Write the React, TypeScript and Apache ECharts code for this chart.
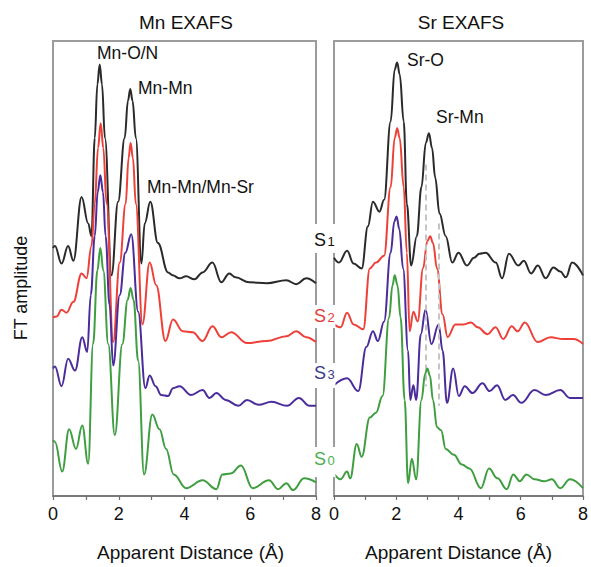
import React, { useEffect, useRef } from "react";
import * as echarts from "echarts";

const FONT = '"Liberation Sans", Arial, Helvetica, sans-serif';

// Mn EXAFS (x: apparent distance in Å, y: FT amplitude with vertical offset, a.u.)
const mnS1: number[][] = [
  [0, 25.3], [0.06, 25.5], [0.26, 23.7], [0.46, 25.5], [0.62, 24.0], [0.87, 30.5],
  [1.07, 27.8], [1.17, 26.5], [1.27, 36.5], [1.35, 42.0], [1.42, 44.0], [1.49, 42.0],
  [1.58, 36.5], [1.78, 22.5], [1.98, 30.0], [2.18, 36.5], [2.28, 40.3], [2.35, 41.5],
  [2.42, 40.3], [2.52, 36.5], [2.69, 23.7], [2.79, 27.8], [2.96, 30.0], [3.19, 25.8],
  [3.5, 22.8], [3.64, 22.5], [3.85, 22.2], [4.05, 22.4], [4.3, 22.1], [4.55, 22.8],
  [4.85, 23.8], [5.12, 21.8], [5.36, 22.7], [5.55, 22.3], [5.97, 21.8], [6.5, 21.7],
  [7.1, 22.0], [7.4, 21.6], [7.7, 22.2], [8, 21.7],
];
const mnS2: number[][] = [
  [0, 18.2], [0.11, 18.3], [0.26, 19.0], [0.41, 18.7], [0.62, 19.8], [0.87, 22.7],
  [1.02, 22.2], [1.17, 25.5], [1.27, 29.8], [1.37, 35.5], [1.45, 38.0], [1.53, 35.5],
  [1.63, 29.8], [1.83, 15.7], [2.03, 23.8], [2.21, 29.8], [2.3, 34.5], [2.36, 36.0],
  [2.43, 34.5], [2.52, 29.8], [2.72, 17.5], [2.94, 23.8], [3.14, 21.5], [3.42, 15.8],
  [3.65, 18.0], [3.95, 16.8], [4.25, 16.7], [4.55, 15.8], [4.85, 17.3], [5.12, 16.2],
  [5.42, 16.7], [5.9, 15.6], [6.5, 15.8], [7.1, 16.3], [7.4, 16.8], [7.7, 16.2], [8, 15.7],
];
const mnS3: number[][] = [
  [0, 13.0], [0.06, 13.2], [0.26, 11.2], [0.46, 14.0], [0.67, 12.8], [0.89, 16.2],
  [1.04, 14.7], [1.15, 20.5], [1.27, 26.5], [1.36, 31.0], [1.44, 32.7], [1.52, 31.0],
  [1.6, 26.5], [1.72, 19.5], [1.83, 13.3], [2.03, 20.5], [2.2, 24.8], [2.38, 26.7],
  [2.59, 18.8], [2.81, 11.0], [2.94, 12.3], [3.12, 11.2], [3.29, 10.3], [3.5, 10.2],
  [3.65, 11.0], [3.85, 11.2], [4.2, 10.3], [4.55, 10.8], [4.76, 10.0], [4.97, 10.5],
  [5.25, 9.8], [5.64, 9.2], [5.9, 9.8], [6.25, 9.3], [6.65, 9.6], [7.12, 9.2],
  [7.48, 10.0], [7.8, 9.2], [8, 9.2],
];
const mnS0: number[][] = [
  [0, 5.7], [0.06, 5.5], [0.28, 2.5], [0.49, 6.8], [0.7, 4.8], [0.89, 7.2],
  [1.07, 3.3], [1.22, 15.5], [1.35, 23.0], [1.44, 25.3], [1.53, 23.0], [1.68, 15.5],
  [1.88, 6.2], [2.11, 15.5], [2.27, 20.0], [2.36, 21.2], [2.45, 20.0], [2.59, 13.8],
  [2.77, 2.2], [3.02, 8.3], [3.24, 6.8], [3.44, 4.8], [3.67, 2.2], [4.05, 0.8],
  [4.55, 1.6], [4.97, 0.7], [5.15, 2.2], [5.4, 2.3], [5.72, 3.1], [6.07, 0.8],
  [6.57, 1.6], [6.85, 0.7], [7.1, 1.3], [7.3, 0.6], [7.64, 1.8], [8, 1.4],
];

// Sr EXAFS
const srS1: number[][] = [
  [0, 24.3], [0.16, 23.8], [0.42, 25.0], [0.63, 23.7], [0.89, 23.2], [1.09, 27.5],
  [1.25, 30.0], [1.46, 29.0], [1.61, 30.2], [1.82, 38.2], [1.95, 43.5], [2.03, 44.2],
  [2.11, 43.0], [2.24, 38.2], [2.34, 29.8], [2.48, 23.5], [2.66, 26.5], [2.81, 31.5],
  [2.95, 36.0], [3.05, 37.0], [3.15, 35.5], [3.25, 32.5], [3.39, 28.8], [3.59, 26.5],
  [3.8, 23.8], [4.0, 24.8], [4.27, 23.5], [4.5, 24.3], [4.67, 24.7], [4.87, 24.8],
  [5.2, 23.8], [5.4, 22.2], [5.62, 24.7], [5.92, 23.5], [6.1, 24.0], [6.33, 22.7],
  [6.55, 23.5], [6.8, 22.2], [7.05, 23.3], [7.27, 22.9], [7.45, 22.3], [7.65, 23.8],
  [8, 22.5],
];
const srS2: number[][] = [
  [0, 17.5], [0.21, 17.2], [0.42, 18.7], [0.63, 17.5], [0.94, 17.0], [1.15, 23.2],
  [1.35, 23.8], [1.61, 24.5], [1.82, 31.5], [1.95, 36.5], [2.03, 37.5], [2.11, 36.5],
  [2.24, 31.5], [2.34, 24.8], [2.43, 16.8], [2.55, 18.8], [2.69, 17.8], [2.86, 23.2],
  [3.0, 26.0], [3.09, 26.5], [3.18, 25.8], [3.31, 23.2], [3.49, 18.5], [3.65, 16.2],
  [3.9, 17.5], [4.17, 17.5], [4.4, 17.7], [4.62, 17.2], [4.93, 16.5], [5.19, 17.2],
  [5.44, 16.0], [5.71, 17.3], [5.9, 16.8], [6.13, 17.7], [6.54, 15.7], [6.96, 16.2],
  [7.35, 16.0], [7.7, 16.0], [8, 15.5],
];
const srS3: number[][] = [
  [0, 11.3], [0.42, 12.0], [0.78, 10.7], [1.04, 15.2], [1.25, 16.8], [1.41, 15.8],
  [1.61, 17.8], [1.82, 24.8], [1.94, 28.0], [2.01, 28.5], [2.1, 27.2], [2.22, 23.2],
  [2.38, 14.8], [2.45, 9.8], [2.55, 11.3], [2.64, 9.8], [2.79, 16.5], [2.94, 19.0],
  [3.13, 15.5], [3.36, 17.5], [3.49, 14.8], [3.63, 9.5], [3.83, 13.0], [4.01, 10.2],
  [4.2, 11.2], [4.45, 10.5], [4.77, 11.5], [5.0, 10.7], [5.24, 11.3], [5.5, 9.8],
  [5.75, 10.3], [6.02, 9.5], [6.44, 10.8], [6.8, 10.3], [7.27, 10.8], [7.58, 10.0],
  [8, 10.0],
];
const srS0: number[][] = [
  [0, 2.3], [0.21, 1.7], [0.42, 2.5], [0.52, 1.8], [0.73, 5.3], [0.89, 4.0],
  [1.15, 8.0], [1.35, 8.5], [1.56, 10.2], [1.77, 18.2], [1.88, 21.5], [1.95, 22.5],
  [2.04, 21.5], [2.14, 18.2], [2.27, 9.8], [2.38, 1.3], [2.5, 3.8], [2.64, 1.7],
  [2.81, 9.8], [2.93, 12.5], [3.0, 13.0], [3.08, 12.3], [3.18, 9.8], [3.31, 7.0],
  [3.44, 6.7], [3.59, 4.8], [3.85, 4.2], [4.11, 3.2], [4.35, 2.8], [4.72, 0.8],
  [4.98, 2.8], [5.25, 1.8], [5.55, 0.7], [5.76, 2.2], [5.97, 1.5], [6.18, 2.2],
  [6.45, 1.7], [6.75, 1.5], [7.0, 1.7], [7.27, 0.8], [7.58, 1.7], [8, 0.8],
];

// Dashed guide lines in the Sr panel: [x, yTop, yBottom]
const srGuides: number[][] = [
  [2.95, 33.8, 11.2],
  [3.36, 27.8, 9.2],
];

const xTicks = [0, 1, 2, 3, 4, 5, 6, 7, 8];
const Y_MAX = 46.4;

const seriesNames = ["S1", "S2", "S3", "S0"];
const colors = ["#2a2a2a", "#ee4038", "#4a2c9c", "#3f9e40"];
const labelColors = ["#111111", "#e23c3c", "#3a3a8c", "#4caf50"];

export default function App() {
  const ref = useRef<HTMLDivElement>(null);

  useEffect(() => {
    if (!ref.current) return;
    const chart = echarts.init(ref.current, undefined, { renderer: "svg" });

    const mk = (data: number[][], i: number, axis: number, extra: any = {}) => ({
      type: "line",
      name: seriesNames[i],
      xAxisIndex: axis,
      yAxisIndex: axis,
      data,
      showSymbol: false,
      smooth: 0.4,
      smoothMonotone: "x",
      lineStyle: { color: colors[i], width: 2 },
      itemStyle: { color: colors[i] },
      z: 2 + i,
      ...extra,
    });

    const xAxisBase = (gi: number) => ({
      type: "value",
      gridIndex: gi,
      min: xTicks[0],
      max: xTicks[xTicks.length - 1],
      interval: 1,
      axisLine: { show: true, lineStyle: { color: "#6f6f6f", width: 1.5 } },
      axisTick: { show: true, length: 4, lineStyle: { color: "#6f6f6f", width: 1.2 } },
      axisLabel: {
        fontSize: 18,
        fontFamily: FONT,
        color: "#111",
        margin: 9,
        formatter: (v: number) => (v % 2 === 0 ? String(v) : ""),
      },
      splitLine: { show: false },
      name: "Apparent Distance (Å)",
      nameLocation: "middle",
      nameGap: 47,
      nameTextStyle: {
        fontSize: 19,
        fontFamily: FONT,
        color: "#111",
        padding: gi === 0 ? [0, 0, 0, 12] : 0,
      },
    });

    const yAxisBase = (gi: number) => ({
      type: "value",
      gridIndex: gi,
      min: 0,
      max: Y_MAX,
      axisLine: { show: false },
      axisTick: { show: false },
      axisLabel: { show: false },
      splitLine: { show: false },
    });

    const txt = (text: string, x: number, y: number, size: number, color = "#111", align = "left", rotation = 0) => ({
      type: "text",
      z: 20,
      x,
      y,
      rotation,
      style: {
        text,
        x: 0,
        y: 0,
        fill: color,
        font: `${size}px ${FONT}`,
        align,
        verticalAlign: "middle",
      },
    });

    const gapRect = (y1: number, y2: number) => ({
      type: "rect",
      z: 10,
      shape: { x: 314.5, y: y1, width: 21, height: y2 - y1 },
      style: { fill: "#ffffff" },
    });

    const sLabel = (i: number, digit: string, cy: number) => [
      txt("S", 314, cy, 18, labelColors[i]),
      txt(digit, 327.5, cy + 1.5, 13, labelColors[i]),
    ];

    const option: any = {
      animation: false,
      backgroundColor: "#ffffff",
      grid: [
        { left: 53, top: 41, width: 263, height: 464, show: true, borderColor: "#9c9c9c", borderWidth: 2, containLabel: false },
        { left: 334, top: 41, width: 256, height: 464, show: true, borderColor: "#9c9c9c", borderWidth: 2, containLabel: false },
      ],
      xAxis: [xAxisBase(0), xAxisBase(1)],
      yAxis: [yAxisBase(0), yAxisBase(1)],
      series: [
        mk(mnS1, 0, 0), mk(mnS2, 1, 0), mk(mnS3, 2, 0), mk(mnS0, 3, 0),
        mk(srS1, 0, 1), mk(srS2, 1, 1),
        mk(srS3, 2, 1, {
          markLine: {
            silent: true,
            symbol: ["none", "none"],
            label: { show: false },
            lineStyle: { type: [6, 4], color: "#c4c4c4", width: 2 },
            data: srGuides.map((g) => [{ coord: [g[0], g[1]] }, { coord: [g[0], g[2]] }]),
          },
        }),
        mk(srS0, 3, 1),
      ],
      graphic: {
        elements: [
          txt("Mn EXAFS", 186, 22, 19, "#111", "center"),
          txt("Sr EXAFS", 461, 22, 19, "#111", "center"),
          txt("FT amplitude", 21, 288, 18, "#111", "center", Math.PI / 2),
          txt("Mn-O/N", 97, 53, 17.5),
          txt("Mn-Mn", 138, 88, 17.5),
          txt("Mn-Mn/Mn-Sr", 147, 187, 17.5),
          txt("Sr-O", 407, 60, 17.5),
          txt("Sr-Mn", 436, 117, 17.5),
          gapRect(224, 253),
          gapRect(305, 328),
          gapRect(363, 388),
          gapRect(447, 477),
          ...sLabel(0, "1", 240),
          ...sLabel(1, "2", 316),
          ...sLabel(2, "3", 373),
          ...sLabel(3, "0", 459),
        ],
      },
    };

    chart.setOption(option);
    return () => chart.dispose();
  }, []);

  return (
    <div
      ref={ref}
      style={{ position: "absolute", left: 0, top: 0, width: 591, height: 567, background: "#fff" }}
    />
  );
}
